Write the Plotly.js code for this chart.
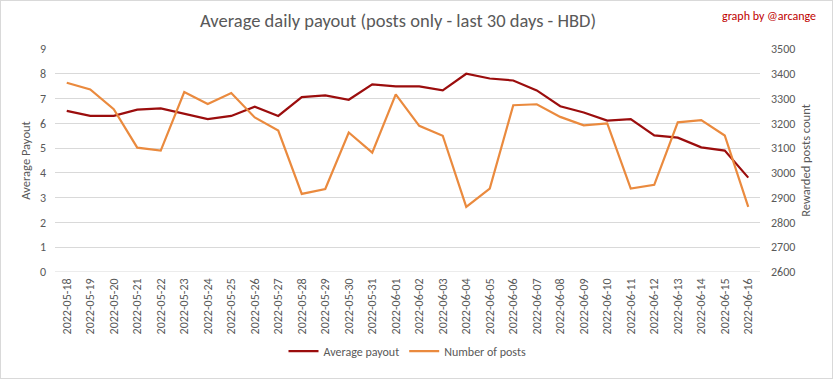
<!DOCTYPE html>
<html>
<head>
<meta charset="utf-8">
<script src="https://cdn.plot.ly/plotly-3.0.1.min.js"></script>
<style>
html,body{margin:0;padding:0;background:#fff;}
#chart{width:831px;height:377px;border:1px solid #d9d9d9;}
</style>
</head>
<body>
<div id="chart"></div>
<script>
const dates = ["2022-05-18","2022-05-19","2022-05-20","2022-05-21","2022-05-22","2022-05-23","2022-05-24","2022-05-25","2022-05-26","2022-05-27","2022-05-28","2022-05-29","2022-05-30","2022-05-31","2022-06-01","2022-06-02","2022-06-03","2022-06-04","2022-06-05","2022-06-06","2022-06-07","2022-06-08","2022-06-09","2022-06-10","2022-06-11","2022-06-12","2022-06-13","2022-06-14","2022-06-15","2022-06-16"];
const avgPayout = [6.5,6.3,6.3,6.55,6.6,6.4,6.17,6.3,6.67,6.3,7.06,7.13,6.95,7.57,7.49,7.49,7.33,8.0,7.81,7.73,7.33,6.69,6.44,6.11,6.17,5.51,5.42,5.03,4.9,3.81];
const postCount = [3364,3337,3257,3102,3090,3326,3278,3322,3224,3171,2915,2935,3163,3082,3317,3190,3150,2863,2937,3273,3277,3226,3192,3200,2937,2952,3204,3213,3151,2863];

const font = "Carlito, Calibri, 'Liberation Sans Narrow', 'Noto Sans', sans-serif";
const grey = "#595959";

const traces = [
  {x: dates, y: avgPayout, type: "scatter", mode: "lines", name: "Average payout",
   line: {color: "#9b0d0d", width: 2.2}, yaxis: "y"},
  {x: dates, y: postCount, type: "scatter", mode: "lines", name: "Number of posts",
   line: {color: "#ea8a3e", width: 2.2}, yaxis: "y2"}
];

const plotW = 831 - 54 - 72, plotH = 377 - 48 - 103;

const layout = {
  width: 831, height: 377,
  margin: {l: 54, r: 72, t: 48, b: 103},
  paper_bgcolor: "#fff", plot_bgcolor: "#fff",
  font: {family: font, color: grey, size: 12},
  title: {text: "Average daily payout (posts only - last 30 days - HBD)",
          font: {size: 18.5, color: grey, family: font}, x: 397/831, xanchor: "center", xref: "container",
          y: 1 - 20/377, yanchor: "middle", yref: "container"},
  showlegend: true,
  legend: {orientation: "h", x: 0.5, xanchor: "center", y: -0.355, yanchor: "middle",
           font: {size: 12, color: grey, family: font}},
  xaxis: {type: "category", range: [-0.5, 29.5], tickangle: -90, showgrid: false,
          showline: false, ticks: "", tickfont: {size: 12, color: grey}, zeroline: false,
          ticklabelstandoff: 3, automargin: false},
  yaxis: {range: [0, 9], dtick: 1, gridcolor: "#d9d9d9", gridwidth: 1, zeroline: false,
          showline: false, ticks: "", tickfont: {size: 12, color: grey}, ticklabelstandoff: 8,
          title: {text: "Average Payout", font: {size: 12.5, color: grey}, standoff: 6},
          automargin: false},
  yaxis2: {range: [2600, 3500], dtick: 100, overlaying: "y", side: "right", showgrid: false,
           zeroline: false, showline: false, ticks: "", tickfont: {size: 12, color: grey},
           ticklabelstandoff: 10,
           title: {text: "Rewarded posts count", font: {size: 12.5, color: grey}, standoff: 6},
           automargin: false},
  shapes: [{type: "line", xref: "paper", yref: "y", x0: 0, x1: 1, y0: 0, y1: 0,
            line: {color: "#d9d9d9", width: 1}}],
  annotations: [{text: "graph by @arcange", xref: "paper", yref: "paper",
                 x: (817 - 54) / plotW, xanchor: "right", y: 1 + (48 - 15) / plotH, yanchor: "middle",
                 showarrow: false, font: {size: 12, color: "#c00000", family: font}}]
};

Plotly.newPlot("chart", traces, layout, {displayModeBar: false, staticPlot: true});
</script>
</body>
</html>
